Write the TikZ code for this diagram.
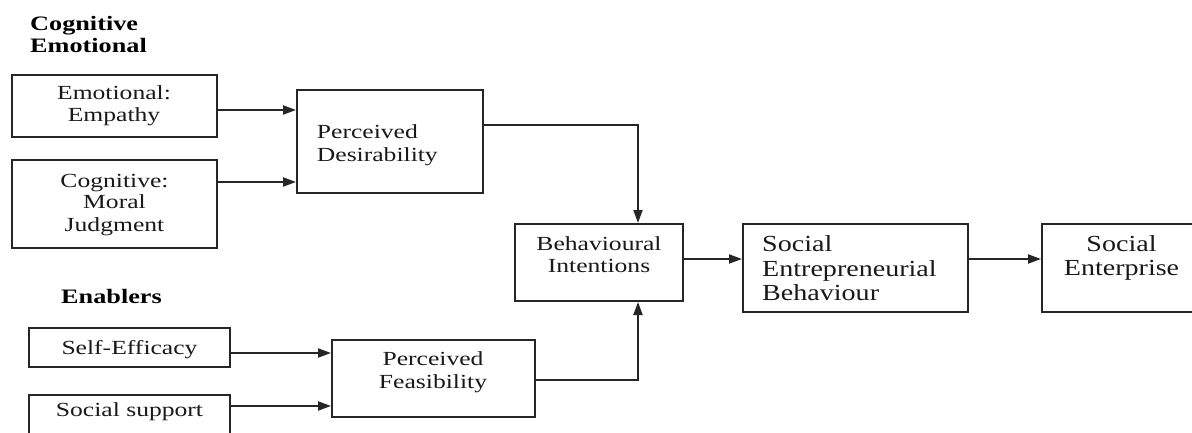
\documentclass[tikz,border=0pt]{standalone}
\usepackage{fontspec}
\setmainfont{Liberation Serif}[FakeStretch=1.28]
\newfontfamily\bigfont{Liberation Serif}[FakeStretch=1.22]
\usetikzlibrary{arrows.meta}
\tikzset{
  box/.style={draw=black!85, line width=2pt, rectangle, inner sep=0pt},
  txt/.style={inner sep=0pt, anchor=base, text=black!90, font=\fontsize{20}{22}\selectfont},
  txtl/.style={txt, anchor=base west},
  bigtxt/.style={inner sep=0pt, anchor=base, text=black!90, font=\bigfont\fontsize{23}{25}\selectfont},
  bigtxtl/.style={bigtxt, anchor=base west},
  head/.style={inner sep=0pt, anchor=base west, font=\fontsize{20.5}{22}\selectfont\bfseries},
  arr/.style={draw=black!85, line width=2pt, -{Triangle[length=13pt,width=9pt]}},
}
\begin{document}
\begin{tikzpicture}[x=1pt,y=-1pt]
\useasboundingbox (0,0) rectangle (1192,432);
\clip (0,0) rectangle (1192,432);
\fill[white] (0,0) rectangle (1192,432);
% boxes
\node[box, minimum width=205pt, minimum height=62pt] (emo) at (114.5,106) {};
\node[box, minimum width=205pt, minimum height=88pt] (cog) at (114.5,204) {};
\node[box, minimum width=186pt, minimum height=103pt] (pd) at (390,141.5) {};
\node[box, minimum width=168pt, minimum height=77pt] (bi) at (599,262.5) {};
\node[box, minimum width=225pt, minimum height=88pt] (seb) at (855.5,268) {};
\node[box, minimum width=158pt, minimum height=88pt] (se) at (1121,268) {};
\node[box, minimum width=201pt, minimum height=39pt] (self) at (129.5,347.5) {};
\node[box, minimum width=201pt, minimum height=45pt] (soc) at (129.5,417.5) {};
\node[box, minimum width=203pt, minimum height=77pt] (pf) at (433.5,378.5) {};
% headings
\node[head] (h1) at (30,30) {Cognitive};
\node[head] (h2) at (30,52.7) {Emotional};
\node[head] (h3) at (61,303) {Enablers};
% texts
\node[txt] (t1a) at (114,99.5) {Emotional:};
\node[txt] (t1b) at (114,121.7) {Empathy};
\node[txt] (t2a) at (114.5,187) {Cognitive:};
\node[txt] (t2b) at (114.5,208.5) {Moral};
\node[txt] (t2c) at (114.5,231) {Judgment};
\node[txtl] (t3a) at (316.7,138.3) {Perceived};
\node[txtl] (t3b) at (316.7,161.7) {Desirability};
\node[txt] (t4a) at (599,250) {Behavioural};
\node[txt] (t4b) at (599,272.7) {Intentions};
\node[bigtxtl] (t5a) at (762,251.7) {Social};
\node[bigtxtl] (t5b) at (762,276.2) {Entrepreneurial};
\node[bigtxtl] (t5c) at (762,300.5) {Behaviour};
\node[bigtxt] (t6a) at (1121.5,251.7) {Social};
\node[bigtxt] (t6b) at (1121.5,275.5) {Enterprise};
\node[txt] (t7) at (129.5,354) {Self-Efficacy};
\node[txt] (t8) at (129.5,416.7) {Social support};
\node[txt] (t9a) at (433,365) {Perceived};
\node[txt] (t9b) at (433,388.3) {Feasibility};
% connectors
\draw[arr] ([yshift=-4pt]emo.east) coordinate (c1) -- (c1 -| pd.west);
\draw[arr] ([yshift=22pt]cog.east) coordinate (c2) -- (c2 -| pd.west);
\draw[arr] ([yshift=16.5pt]pd.east) -| ([xshift=39pt]bi.north);
\draw[arr] ([yshift=-1.5pt]pf.east) -| ([xshift=39pt]bi.south);
\draw[arr] ([yshift=-5.5pt]self.east) coordinate (c3) -- (c3 -| pf.west);
\draw[arr] ([yshift=11.5pt]soc.east) coordinate (c4) -- (c4 -| pf.west);
\draw[arr] ([yshift=3.5pt]bi.east) coordinate (c5) -- (c5 -| seb.west);
\draw[arr] ([yshift=9pt]seb.east) coordinate (c6) -- (c6 -| se.west);
\end{tikzpicture}
\end{document}
